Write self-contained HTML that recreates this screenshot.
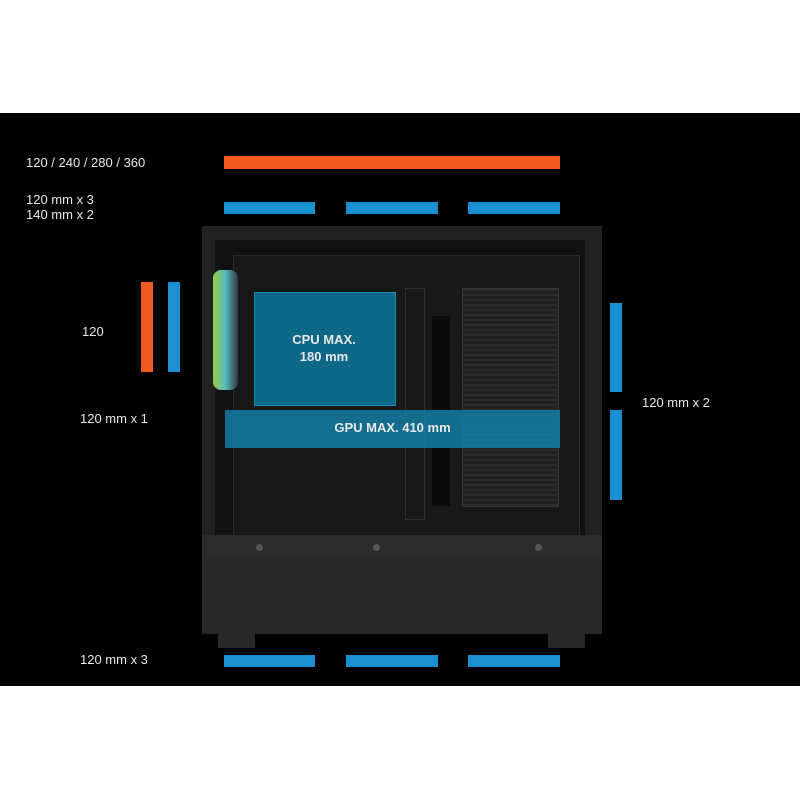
<!DOCTYPE html><html><head><style>
body{margin:0;width:800px;height:800px;background:#fff;position:relative;overflow:hidden;font-family:"Liberation Sans",sans-serif}
div{position:absolute}
.t{color:#e8e8e8;font-size:13px;white-space:nowrap}
.b{background:#1b8fcf}.o{background:#f05a1e}
</style></head><body>
<div style="left:0;top:113px;width:800px;height:573px;background:#000"></div>
<div class="o" style="left:224px;top:156px;width:336px;height:13px"></div>
<div class="b" style="left:224px;top:202px;width:91px;height:12px"></div>
<div class="b" style="left:346px;top:202px;width:92px;height:12px"></div>
<div class="b" style="left:468px;top:202px;width:92px;height:12px"></div>
<div class="b" style="left:224px;top:655px;width:91px;height:12px"></div>
<div class="b" style="left:346px;top:655px;width:92px;height:12px"></div>
<div class="b" style="left:468px;top:655px;width:92px;height:12px"></div>
<div class="o" style="left:141px;top:282px;width:12px;height:90px"></div>
<div class="b" style="left:168px;top:282px;width:12px;height:90px"></div>
<div class="b" style="left:610px;top:303px;width:12px;height:89px"></div>
<div class="b" style="left:610px;top:410px;width:12px;height:90px"></div>
<!-- case -->
<div style="left:202px;top:226px;width:400px;height:408px;background:#222"></div>
<div style="left:215px;top:240px;width:370px;height:295px;background:#111"></div>
<div style="left:233px;top:255px;width:345px;height:280px;background:#181818;border:1px solid #2a2a2a"></div>
<div style="left:462px;top:288px;width:95px;height:217px;background:#202020;border:1px solid #363636;background-image:repeating-linear-gradient(0deg,#2c2c2c 0 2px,transparent 2px 5px)"></div>
<div style="left:405px;top:288px;width:18px;height:230px;border:1px solid #2e2e2e"></div>
<div style="left:432px;top:316px;width:18px;height:190px;background:#0a0a0a"></div>
<div style="left:213px;top:270px;width:25px;height:120px;background:linear-gradient(90deg,#9c4,#5bb 50%,#334);border-radius:8px"></div>
<div style="left:202px;top:535px;width:400px;height:23px;background:#2b2b2b"></div>
<div style="left:202px;top:558px;width:400px;height:75px;background:#282828"></div>
<div style="left:218px;top:633px;width:37px;height:15px;background:#282828"></div>
<div style="left:548px;top:633px;width:37px;height:15px;background:#282828"></div>
<div style="left:256px;top:544px;width:7px;height:7px;border-radius:50%;background:#555"></div>
<div style="left:373px;top:544px;width:7px;height:7px;border-radius:50%;background:#555"></div>
<div style="left:535px;top:544px;width:7px;height:7px;border-radius:50%;background:#555"></div>
<div style="left:254px;top:292px;width:140px;height:112px;background:#0d6888;border:1px solid #1a8ab0"></div>
<div style="left:225px;top:410px;width:335px;height:38px;background:rgba(20,125,165,0.85)"></div>
<div style="left:254px;top:331px;width:140px;text-align:center;color:#e8e8e8;font-size:13px;font-weight:bold;line-height:17px">CPU MAX.<br>180 mm</div>
<div style="left:225px;top:420px;width:335px;text-align:center;color:#e8e8e8;font-size:13px;font-weight:bold">GPU MAX. 410 mm</div>
<div class="t" style="left:26px;top:155px">120 / 240 / 280 / 360</div>
<div class="t" style="left:26px;top:192px;line-height:15px">120 mm x 3<br>140 mm x 2</div>
<div class="t" style="left:82px;top:324px">120</div>
<div class="t" style="left:80px;top:411px">120 mm x 1</div>
<div class="t" style="left:642px;top:395px">120 mm x 2</div>
<div class="t" style="left:80px;top:652px">120 mm x 3</div>
</body></html>
